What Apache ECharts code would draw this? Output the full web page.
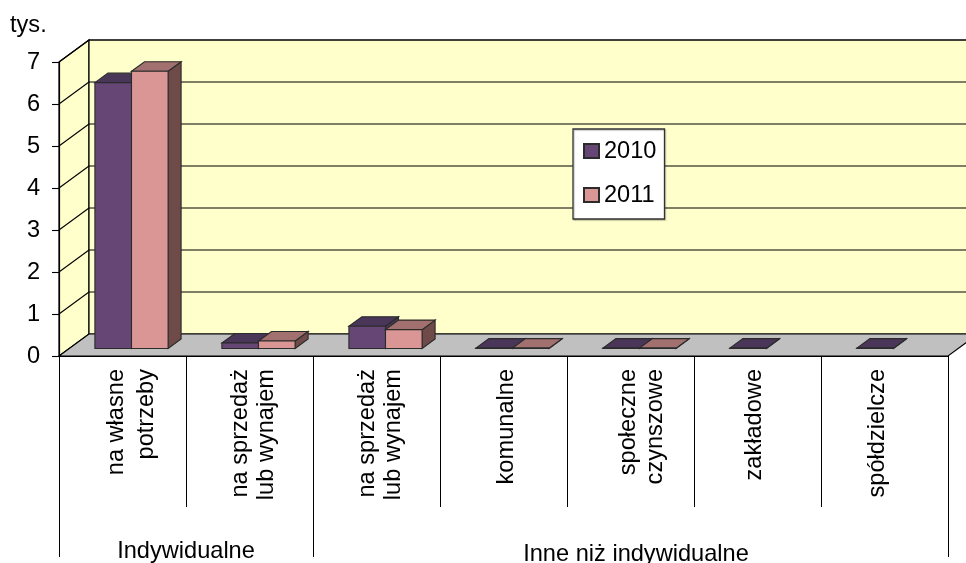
<!DOCTYPE html>
<html><head><meta charset="utf-8">
<style>html,body{margin:0;padding:0;background:#fff}#c{width:966px;height:563px}</style>
<script src="https://cdn.jsdelivr.net/npm/echarts@6/dist/echarts.min.js"></script>
</head><body><div id="c"></div>
<script>
const categories = ['na własne\npotrzeby','na sprzedaż\nlub wynajem','na sprzedaż\nlub wynajem','komunalne','społeczne\nczynszowe','zakładowe','spółdzielcze'];
const values2010 = [6.33,0.13,0.53,0.01,0.01,0.01,0.01];
const values2011 = [6.6,0.18,0.45,0.01,0.01,null,null];
const yTicks = [0,1,2,3,4,5,6,7];
const groupNames = ['Indywidualne','Inne niż indywidualne'];
const groupStart = [0,2];
const groupEnd = [1,6];

const FONT = '23.6px "Liberation Sans", Arial, sans-serif';
const WALL_DX = 30, WALL_DY = -22;
const BAR_DX = 9, BAR_DY = -7.5, BAR_DEPTH_X = 13, BAR_DEPTH_Y = -9.5;
const BAR_FRAC = 36.6/127;
const labelShift = [9,4,3.5,3,11,-3.5,-7];
const labelLine = [30,26,26,26,27,26,26];
const groupShift = [0,5.5];
const groupY = [551,554];

function poly(pts, fill, stroke, lw){
  return {type:'polygon',shape:{points:pts},style:{fill:fill,stroke:stroke||null,lineWidth:lw===undefined?1:lw}};
}
function line(a,b,stroke,lw){
  return {type:'line',shape:{x1:a[0],y1:a[1],x2:b[0],y2:b[1]},style:{stroke:stroke||'#000',lineWidth:lw||1.1}};
}
function wallItem(params, api){
  const v = api.value(0);
  const band = api.size([1,0])[0];
  const p0 = api.coord([0,v]); const L = p0[0]-band/2;
  const R = L + band*categories.length;
  const y = p0[1];
  const kids = [];
  if (v === yTicks[0]) {
    const top = api.coord([0,yTicks[yTicks.length-1]])[1];
    kids.push(poly([[L,top],[L+WALL_DX,top+WALL_DY],[L+WALL_DX,y+WALL_DY],[L,y]],'#FFFFCC','#000',1.2));
    kids.push(poly([[L+WALL_DX,top+WALL_DY],[R+WALL_DX,top+WALL_DY],[R+WALL_DX,y+WALL_DY],[L+WALL_DX,y+WALL_DY]],'#FFFFCC','#000',1.2));
    kids.push(poly([[L,y],[R,y],[R+WALL_DX,y+WALL_DY],[L+WALL_DX,y+WALL_DY]],'#C0C0C0','#000',1.1));
  } else {
    kids.push(line([L,y],[L+WALL_DX,y+WALL_DY]));
    kids.push(line([L+WALL_DX,y+WALL_DY],[R+WALL_DX,y+WALL_DY]));
  }
  return {type:'group',children:kids};
}
function barRenderer(seriesIdx, front, top, side){
  return function(params, api){
    const cat = api.value(0), val = api.value(1);
    if (val == null || isNaN(val)) return null;
    const band = api.size([1,0])[0];
    const w = band*BAR_FRAC;
    const c = api.coord([cat,0]);
    const t = api.coord([cat,val]);
    const x0 = c[0]+BAR_DX-w+seriesIdx*w, x1 = x0+w;
    const yb = c[1]+BAR_DY, yt = t[1]+BAR_DY;
    const s = '#2b2b2b';
    return {type:'group',children:[
      poly([[x1,yb],[x1+BAR_DEPTH_X,yb+BAR_DEPTH_Y],[x1+BAR_DEPTH_X,yt+BAR_DEPTH_Y],[x1,yt]],side,s,1.1),
      poly([[x0,yt],[x1,yt],[x1+BAR_DEPTH_X,yt+BAR_DEPTH_Y],[x0+BAR_DEPTH_X,yt+BAR_DEPTH_Y]],top,s,1.1),
      {type:'rect',shape:{x:x0,y:yt,width:w,height:yb-yt},style:{fill:front,stroke:s,lineWidth:1.1}}
    ]};
  };
}
function catLabel(params, api){
  const i = api.value(0);
  const c = api.coord([i,0]);
  return {type:'text',x:c[0]+labelShift[i],y:c[1]+13,rotation:Math.PI/2,
    style:{text:categories[i],font:FONT,fill:'#000',align:'right',verticalAlign:'middle',lineHeight:labelLine[i]}};
}
function groupMark(params, api){
  const i = params.dataIndex;
  const band = api.size([1,0])[0];
  const a = api.coord([groupStart[i],0]), b = api.coord([groupEnd[i],0]);
  const xL = a[0]-band/2, xR = b[0]+band/2, y = a[1];
  const lx = Math.floor(xL)+0.5, rx = Math.floor(xR)+0.5;
  const kids = [
    line([lx,y+151],[lx,y+201],'#000',1),
    line([rx,y+151],[rx,y+201],'#000',1),
    {type:'text',x:(xL+xR)/2+groupShift[i],y:groupY[i],
     style:{text:groupNames[i],font:FONT,fill:'#000',align:'center',verticalAlign:'middle'}}
  ];
  return {type:'group',children:kids};
}
const chart = echarts.init(document.getElementById('c'),null,{renderer:'canvas'});
chart.setOption({
  animation:false,
  backgroundColor:'#fff',
  title:{text:'tys.',left:10,top:13,padding:0,textStyle:{fontFamily:'Liberation Sans',fontSize:23.6,fontWeight:'normal',color:'#000'}},
  legend:{data:['2010','2011'],orient:'vertical',left:573,top:129,
    backgroundColor:'#fff',borderColor:'#333',borderWidth:1.3,padding:[10,8,12,10],
    shadowColor:'rgba(0,0,0,0.25)',shadowBlur:1,shadowOffsetX:1,shadowOffsetY:1,
    itemWidth:15,itemHeight:14,itemGap:20,icon:'rect',selectedMode:false,
    textStyle:{fontFamily:'Liberation Sans',fontSize:23.6,color:'#000'}},
  grid:{left:59,right:18,top:62,bottom:207,containLabel:false},
  xAxis:{type:'category',data:categories,boundaryGap:true,
    axisLine:{lineStyle:{color:'#000',width:1.2}},
    axisTick:{show:true,interval:0,length:151,lineStyle:{color:'#000',width:1}},
    axisLabel:{show:false},splitLine:{show:false}},
  yAxis:{type:'value',min:0,max:7,interval:1,
    axisLine:{show:true,lineStyle:{color:'#000',width:1.2}},
    axisTick:{show:true,length:7,lineStyle:{color:'#000',width:1.1}},
    axisLabel:{margin:19,fontFamily:'Liberation Sans',fontSize:23.6,color:'#000'},
    splitLine:{show:false}},
  series:[
    {type:'custom',name:'wall',z:-1,silent:true,encode:{x:1,y:0},
      data:yTicks.map(v=>[v,0]),renderItem:wallItem},
    {type:'custom',name:'catLabels',z:5,silent:true,encode:{x:0},
      data:categories.map((c,i)=>[i]),renderItem:catLabel},
    {type:'custom',name:'groups',z:5,silent:true,
      data:groupNames.map((g,i)=>[i]),renderItem:groupMark},
    {type:'custom',name:'2010',z:3,encode:{x:0,y:1},itemStyle:{color:'#664675',borderColor:'#2b2b2b',borderWidth:1},
      data:values2010.map((v,i)=>[i,v]),renderItem:barRenderer(0,'#664675','#4A3659','#4A3659')},
    {type:'custom',name:'2011',z:4,encode:{x:0,y:1},itemStyle:{color:'#DA9694',borderColor:'#2b2b2b',borderWidth:1},
      data:values2011.map((v,i)=>[i,v]),renderItem:barRenderer(1,'#DA9694','#A2716F','#6E4B49')}
  ]
});
</script></body></html>
